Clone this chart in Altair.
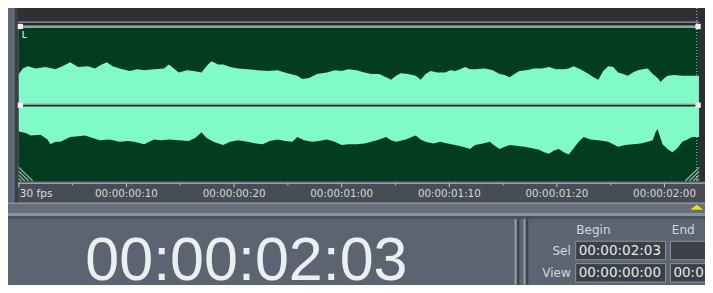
import altair as alt
import pandas as pd

# ---------------- data ----------------
# waveform envelope: frame position (30 fps) and normalised amplitude
top_frame = [0.00, 0.37, 0.83, 1.56, 2.48, 3.39, 4.04, 4.77, 5.50, 6.42, 7.06, 7.71, 8.17, 8.72, 9.36,
             10.28, 11.01, 11.65, 12.57, 13.49, 13.94, 14.40, 14.86, 15.60, 16.24, 16.97, 17.43, 17.89,
             18.53, 18.99, 19.63, 20.37, 21.28, 22.20, 23.12, 24.04, 24.95, 25.87, 26.33, 26.97, 27.71,
             28.62, 29.36, 30.00, 30.64, 31.38, 32.11, 32.75, 33.49, 34.13, 34.59, 35.05, 35.50, 36.15,
             36.88, 37.34, 37.80, 38.26, 38.90, 39.63, 40.09, 40.55, 41.01, 41.47, 41.93, 42.39, 43.30,
             44.04, 44.68, 45.14, 45.60, 46.06, 46.51, 47.16, 47.89, 48.62, 49.27, 49.91, 50.64, 51.10,
             51.56, 52.02, 52.48, 52.94, 53.39, 53.85, 54.31, 54.77, 55.23, 55.69, 56.15, 56.61, 57.06,
             57.52, 57.98, 58.44, 58.90, 59.36, 59.63, 60.00, 60.28, 60.92, 61.65, 62.39, 63.03, 63.20]
top_amp = [0.39, 0.46, 0.49, 0.46, 0.48, 0.45, 0.49, 0.54, 0.48, 0.49, 0.46, 0.51, 0.54, 0.49, 0.46,
           0.43, 0.45, 0.44, 0.45, 0.46, 0.51, 0.46, 0.41, 0.44, 0.43, 0.41, 0.49, 0.55,
           0.51, 0.51, 0.48, 0.46, 0.45, 0.44, 0.43, 0.44, 0.40, 0.37, 0.33, 0.34, 0.39,
           0.41, 0.44, 0.43, 0.45, 0.44, 0.41, 0.39, 0.39, 0.35, 0.32, 0.37, 0.40, 0.39,
           0.37, 0.32, 0.39, 0.43, 0.41, 0.41, 0.44, 0.43, 0.45, 0.48, 0.45, 0.45, 0.46,
           0.44, 0.39, 0.38, 0.35, 0.39, 0.43, 0.44, 0.46, 0.46, 0.48, 0.45, 0.45, 0.46,
           0.49, 0.46, 0.43, 0.39, 0.35, 0.32, 0.43, 0.49, 0.48, 0.41, 0.39, 0.37, 0.41,
           0.44, 0.45, 0.46, 0.39, 0.34, 0.29, 0.34, 0.37, 0.38, 0.37, 0.37, 0.37, 0.37]
bot_frame = [0.00, 0.64, 1.10, 2.02, 2.66, 2.94, 3.39, 3.85, 4.77, 5.50, 6.15, 6.79, 7.52, 8.44, 9.36,
             10.09, 10.73, 11.65, 12.11, 12.57, 13.21, 13.94, 14.86, 15.78, 16.42, 16.97, 17.43, 18.07,
             18.99, 19.63, 20.37, 21.28, 22.02, 22.66, 23.30, 24.04, 24.77, 25.41, 25.87, 26.51, 27.25,
             27.89, 28.62, 29.36, 30.00, 30.64, 31.38, 32.11, 32.75, 33.49, 34.13, 34.59, 35.05, 35.96,
             36.51, 36.88, 37.34, 37.80, 38.53, 39.17, 39.82, 40.55, 41.28, 41.93, 42.39, 43.12, 43.76,
             44.22, 44.68, 45.14, 45.60, 46.24, 46.97, 47.71, 48.35, 48.81, 49.27, 49.72, 50.18, 50.64,
             51.10, 51.56, 52.02, 52.48, 53.12, 53.85, 54.31, 54.77, 55.23, 55.69, 56.33, 57.06, 57.80,
             58.44, 58.90, 59.17, 59.36, 59.54, 59.82, 60.28, 60.73, 61.19, 61.65, 62.11, 62.57, 63.21]
bot_amp = [-0.33, -0.35, -0.38, -0.37, -0.43, -0.49, -0.46, -0.46, -0.40, -0.39, -0.38, -0.41, -0.44, -0.43, -0.46,
           -0.45, -0.46, -0.49, -0.46, -0.43, -0.44, -0.43, -0.44, -0.45, -0.41, -0.34, -0.41, -0.46,
           -0.50, -0.46, -0.44, -0.46, -0.48, -0.49, -0.45, -0.43, -0.45, -0.46, -0.40, -0.44, -0.46,
           -0.45, -0.43, -0.46, -0.50, -0.49, -0.49, -0.48, -0.46, -0.43, -0.40, -0.44, -0.46, -0.43,
           -0.40, -0.38, -0.43, -0.46, -0.48, -0.46, -0.48, -0.50, -0.52, -0.55, -0.50, -0.48, -0.46,
           -0.51, -0.55, -0.52, -0.50, -0.51, -0.52, -0.54, -0.56, -0.59, -0.61, -0.57, -0.55, -0.59,
           -0.62, -0.54, -0.46, -0.40, -0.43, -0.44, -0.45, -0.46, -0.49, -0.52, -0.50, -0.49, -0.48,
           -0.46, -0.44, -0.34, -0.30, -0.38, -0.49, -0.55, -0.59, -0.54, -0.46, -0.43, -0.40, -0.40]

major_frames = [0, 10, 20, 30, 40, 50, 60]
minor_frames = [5, 15, 25, 35, 45, 55]
label_frames = [10, 20, 30, 40, 50, 60]
label_texts = ["00:00:00:10", "00:00:00:20", "00:00:01:00", "00:00:01:10", "00:00:01:20", "00:00:02:00"]
fps_label = "30 fps"
cursor_frame = 63
big_time = "00:00:02:03"
col_heads = ["Begin", "End"]
row_heads = ["Sel", "View"]
sel_begin = "00:00:02:03"
view_begin = "00:00:00:00"
view_end = "00:0"
channel_label = "L"

# ---------------- layout (reference pixel frame) ----------------
W, H = 697, 277
X0, X1, Y0, Y1 = 7, 713, 2, 287          # part of the reference the chart covers
ORIGIN_PX, PX_PER_FRAME = 18, 10.9       # time ruler
CENTER_PX, PX_PER_AMP = 102, 82          # waveform vertical scale

XPX = alt.Scale(domain=[X0, X1], nice=False, zero=False)
YPX = alt.Scale(domain=[Y0, Y1], reverse=True, nice=False, zero=False)
XFR = alt.Scale(domain=[(X0 - ORIGIN_PX) / PX_PER_FRAME, (X1 - ORIGIN_PX) / PX_PER_FRAME], nice=False, zero=False)
YAMP = alt.Scale(domain=[(CENTER_PX - Y1) / PX_PER_AMP, (CENTER_PX - Y0) / PX_PER_AMP], nice=False, zero=False)


def px(field, ch):
    if ch == "x":
        return alt.X(f"{field}:Q", scale=XPX, axis=None)
    if ch == "x2":
        return alt.X2(f"{field}:Q")
    if ch == "y":
        return alt.Y(f"{field}:Q", scale=YPX, axis=None)
    return alt.Y2(f"{field}:Q")


panels = pd.DataFrame([
    (7, 713, 2, 287, "#5c6472"),
    (7, 14, 2, 203, "#606776"),
    (14, 17.5, 2, 203, "#3a3e46"),
    (17, 713, 2, 16, "#2f3034"),
    (17, 713, 16, 17.5, "#7d8289"),
    (17, 713, 17.5, 20, "#26282a"),
    (17, 708, 20, 22.5, "#98a4a2"),
    (18, 707, 22.5, 180, "#033d20"),
    (707, 713, 2, 181, "#2d2f32"),
    (17, 713, 180, 202, "#474c55"),
    (17, 713, 181.5, 183, "#9ca1a7"),
    (7, 713, 202, 204, "#8b929c"),
    (7, 713, 204, 213, "#666d7b"),
    (7, 713, 213, 216, "#8a929e"),
    (7, 713, 216, 219, "#4a5260"),
    (7, 713, 219, 287, "#5c6472"),
    (520, 522.5, 219, 287, "#8d95a0"),
    (522.5, 525, 219, 287, "#3f4550"),
    (529, 531.5, 219, 287, "#8d95a0"),
    (531.5, 534, 219, 287, "#3f4550"),
], columns=["x", "x2", "y", "y2", "c"])

boxes = pd.DataFrame([
    (582, 673, 242, 261), (678, 716, 242, 261),
    (582, 673, 265, 284), (678, 716, 265, 284),
], columns=["x", "x2", "y", "y2"])

bg = alt.Chart(panels).mark_rect().encode(
    x=px("x", "x"), x2=px("x2", "x2"), y=px("y", "y"), y2=px("y2", "y2"),
    color=alt.Color("c:N", scale=None))

box_layer = alt.Chart(boxes).mark_rect(fill="#3b3f46", stroke="#8a929e", strokeWidth=1).encode(
    x=px("x", "x"), x2=px("x2", "x2"), y=px("y", "y"), y2=px("y2", "y2"))

wave_top = alt.Chart(pd.DataFrame({"f": top_frame, "a": top_amp})).mark_area(
    color="#80fbc8", interpolate="linear").encode(
    x=alt.X("f:Q", scale=XFR, axis=None),
    y=alt.Y("a:Q", scale=YAMP, axis=None),
    y2=alt.datum(0))
wave_bot = alt.Chart(pd.DataFrame({"f": bot_frame, "a": bot_amp})).mark_area(
    color="#80fbc8", interpolate="linear").encode(
    x=alt.X("f:Q", scale=XFR, axis=None),
    y=alt.Y("a:Q", scale=YAMP, axis=None),
    y2=alt.datum(0))

center_lines = pd.DataFrame([
    (18, 707, 100.8, "#a9bab6"),
    (18, 707, 102.4, "#1d2a26"),
], columns=["x", "x2", "y", "c"])
center = alt.Chart(center_lines).mark_rule(strokeWidth=1.6).encode(
    x=px("x", "x"), x2=px("x2", "x2"), y=px("y", "y"), color=alt.Color("c:N", scale=None))

handles = alt.Chart(pd.DataFrame({"x": [19.5, 706, 19.5, 706], "y": [21, 21, 102, 102]})).mark_square(
    size=28, color="#f2f2f2", opacity=1).encode(x=px("x", "x"), y=px("y", "y"))

hatch_rows = []
for y0 in [166, 170, 174, 177.5]:
    hatch_rows.append((18, y0, 18 + (180 - y0), 180))
    hatch_rows.append((707, y0, 707 - (180 - y0), 180))
hatch = alt.Chart(pd.DataFrame(hatch_rows, columns=["x", "y", "x2", "y2"])).mark_rule(
    color="#9fb2a8", strokeWidth=1.2).encode(
    x=px("x", "x"), y=px("y", "y"), x2=px("x2", "x2"), y2=px("y2", "y2"))

ticks_df = pd.DataFrame({"f": major_frames + minor_frames,
                         "y": [182] * (len(major_frames) + len(minor_frames)),
                         "y2": [186.5] * len(major_frames) + [184.5] * len(minor_frames)})
ticks = alt.Chart(ticks_df).mark_rule(color="#c0c4c8", strokeWidth=1).encode(
    x=alt.X("f:Q", scale=XFR, axis=None), y=px("y", "y"), y2=px("y2", "y2"))

labels = alt.Chart(pd.DataFrame({"f": label_frames, "t": label_texts, "y": [193.5] * len(label_frames)})).mark_text(
    font="DejaVu Sans", fontSize=10.3, color="#d4d8dc", align="center", baseline="middle").encode(
    x=alt.X("f:Q", scale=XFR, axis=None), y=px("y", "y"), text="t:N")

cursor = alt.Chart(pd.DataFrame({"f": [cursor_frame], "y": [2], "y2": [180]})).mark_rule(
    color="#c8c8b8", strokeWidth=1, strokeDash=[1, 2]).encode(
    x=alt.X("f:Q", scale=XFR, axis=None), y=px("y", "y"), y2=px("y2", "y2"))

marker = alt.Chart(pd.DataFrame({"f": [cursor_frame], "y": [207]})).mark_point(
    shape="M-1,0.4L0,-0.4L1,0.4Z", size=169, filled=True, fill="#f4e400", opacity=1, strokeWidth=0).encode(
    x=alt.X("f:Q", scale=XFR, axis=None), y=px("y", "y"))

texts_df = pd.DataFrame([
    (19, 193.5, fps_label, "left", "DejaVu Sans", 10.5, "#d8dce0"),
    (600, 230, col_heads[0], "center", "DejaVu Sans", 12, "#d4d8dd"),
    (691, 230, col_heads[1], "center", "DejaVu Sans", 12, "#d4d8dd"),
    (577, 252, row_heads[0], "right", "DejaVu Sans", 12, "#d4d8dd"),
    (577, 275, row_heads[1], "right", "DejaVu Sans", 12, "#d4d8dd"),
    (585, 252, sel_begin, "left", "DejaVu Sans", 13.5, "#e6e9ec"),
    (585, 275, view_begin, "left", "DejaVu Sans", 13.5, "#e6e9ec"),
    (681, 275, view_end, "left", "DejaVu Sans", 13.5, "#e6e9ec"),
    (21, 30, channel_label, "left", "DejaVu Sans", 9, "#ffffff"),
], columns=["x", "y", "t", "al", "font", "size", "c"])

text_layers = []
for al in ["left", "center", "right"]:
    sub = texts_df[texts_df["al"] == al]
    for (fnt, sz), g in sub.groupby(["font", "size"]):
        text_layers.append(alt.Chart(g).mark_text(
            font=fnt, fontSize=float(sz), align=al, baseline="middle").encode(
            x=px("x", "x"), y=px("y", "y"), text="t:N", color=alt.Color("c:N", scale=None)))

big = alt.Chart(pd.DataFrame({"x": [248.5], "y": [282], "t": [big_time]})).mark_text(
    font="Liberation Sans", fontSize=61, color="#eceff1",
    align="center", baseline="alphabetic").encode(
    x=px("x", "x"), y=px("y", "y"), text="t:N")

chart = alt.layer(
    bg, wave_top, wave_bot, center, handles, hatch, ticks, labels, cursor, marker,
    box_layer, *text_layers, big
).resolve_scale(x="independent", y="independent").properties(
    width=W, height=H, padding=0,
    autosize=alt.AutoSizeParams(type="none")
).configure_view(stroke=None)

chart.save("out.html", embed_options={"renderer": "svg", "actions": False})
